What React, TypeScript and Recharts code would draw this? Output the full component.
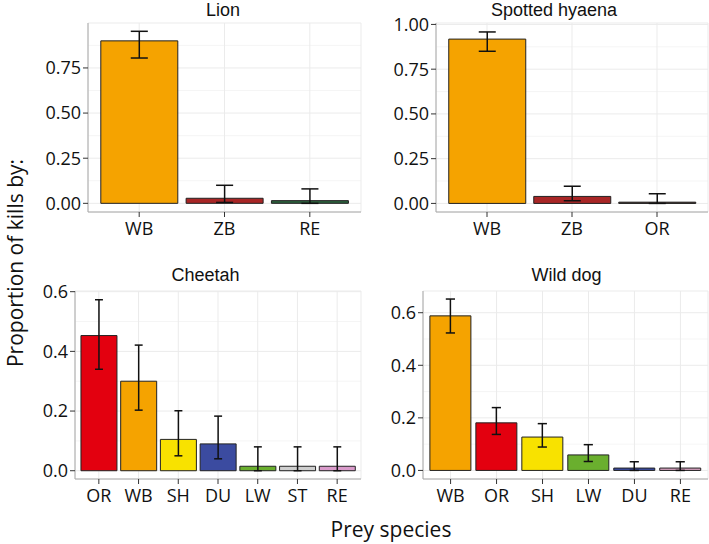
import React from "react";
import {
  BarChart,
  Bar,
  Cell,
  XAxis,
  YAxis,
  CartesianGrid,
  ErrorBar,
} from "recharts";

// Lion
const lionPrey = ["WB", "ZB", "RE"];
const lionValue = [0.9, 0.028, 0.015];
const lionLow = [0.805, 0.005, 0.0];
const lionHigh = [0.953, 0.1, 0.08];

// Spotted hyaena
const hyaenaPrey = ["WB", "ZB", "OR"];
const hyaenaValue = [0.918, 0.039, 0.007];
const hyaenaLow = [0.85, 0.015, 0.0];
const hyaenaHigh = [0.958, 0.096, 0.054];

// Cheetah
const cheetahPrey = ["OR", "WB", "SH", "DU", "LW", "ST", "RE"];
const cheetahValue = [0.453, 0.3, 0.105, 0.09, 0.015, 0.015, 0.015];
const cheetahLow = [0.34, 0.203, 0.05, 0.04, 0.0, 0.0, 0.0];
const cheetahHigh = [0.573, 0.421, 0.201, 0.183, 0.08, 0.08, 0.08];

// Wild dog
const dogPrey = ["WB", "OR", "SH", "LW", "DU", "RE"];
const dogValue = [0.588, 0.181, 0.127, 0.059, 0.009, 0.009];
const dogLow = [0.523, 0.137, 0.089, 0.034, 0.0, 0.0];
const dogHigh = [0.652, 0.239, 0.178, 0.098, 0.033, 0.033];

// y tick labels
const ticksQuarter = [0, 0.25, 0.5, 0.75];
const ticksQuarterFull = [0, 0.25, 0.5, 0.75, 1.0];
const minorQuarter = [0.125, 0.375, 0.625, 0.875];
const ticksTenth = [0, 0.2, 0.4, 0.6];
const minorTenth = [0.1, 0.3, 0.5];

const COLORS: Record<string, Record<string, string>> = {
  lion: { WB: "#F5A300", ZB: "#A82626", RE: "#2C5E3C" },
  hyaena: { WB: "#F5A300", ZB: "#A82626", OR: "#3A1A10" },
  cheetah: {
    OR: "#E3000F",
    WB: "#F5A300",
    SH: "#F8E200",
    DU: "#3B4BA0",
    LW: "#6AAF2E",
    ST: "#CFCFCF",
    RE: "#DA9BCB",
  },
  dog: {
    WB: "#F5A300",
    OR: "#E3000F",
    SH: "#F8E200",
    LW: "#6AAF2E",
    DU: "#3B4BA0",
    RE: "#D8A0C0",
  },
};

const TICK_FONT = "'Open Sans', sans-serif";
const TITLE_FONT = "'Liberation Sans', Arial, sans-serif";

function buildRows(prey: string[], value: number[], lo: number[], hi: number[]) {
  return prey.map((p, i) => ({
    prey: p,
    value: value[i],
    err: [value[i] - lo[i], hi[i] - value[i]],
  }));
}

interface PanelProps {
  title: string;
  titleX: number;
  titleY: number;
  plotLeft: number;
  plotTop: number;
  plotRight: number;
  plotBottom: number;
  rows: { prey: string; value: number; err: number[] }[];
  colors: Record<string, string>;
  domain: [number, number];
  ticks: number[];
  minor: number[];
  decimals: number;
}

function Panel(p: PanelProps) {
  const yAxisW = 64;
  const xAxisH = 34;
  const topPad = 12;
  const left = p.plotLeft - yAxisW;
  const w = p.plotRight - left + 1;
  const h = p.plotBottom - p.plotTop + xAxisH + topPad;
  const plotW = p.plotRight - p.plotLeft;
  const unit = plotW / (p.rows.length + 0.2);
  const pad = unit * 0.1;
  const cap = unit * 0.1;
  const tickStyle = { fill: "#111", fontSize: 18, fontFamily: TICK_FONT };

  return (
    <>
      <div
        style={{
          position: "absolute",
          left: p.titleX - 100,
          top: p.titleY - 9,
          width: 200,
          textAlign: "center",
          fontFamily: TITLE_FONT,
          fontSize: 18,
          lineHeight: "19px",
          color: "#111",
        }}
      >
        {p.title}
      </div>
      <div style={{ position: "absolute", left, top: p.plotTop - topPad }}>
        <BarChart
          width={w}
          height={h}
          data={p.rows}
          margin={{ top: topPad, right: 1, bottom: 0, left: 0 }}
          barCategoryGap="5%"
        >
          <CartesianGrid
            xAxisId="x"
            yAxisId="y"
            vertical={false}
            horizontalValues={p.minor}
            stroke="#F3F3F3"
            strokeWidth={0.8}
          />
          <CartesianGrid xAxisId="x" yAxisId="y" stroke="#EBEBEB" strokeWidth={1} />
          <XAxis
            xAxisId="x"
            dataKey="prey"
            height={xAxisH}
            interval={0}
            padding={{ left: pad, right: pad }}
            tickSize={5}
            tickMargin={5}
            axisLine={{ stroke: "#A8A8A8" }}
            tickLine={{ stroke: "#333" }}
            tick={tickStyle}
          />
          <XAxis
            xAxisId="t"
            orientation="top"
            dataKey="prey"
            height={0}
            tick={false}
            tickLine={false}
            axisLine={{ stroke: "#A8A8A8" }}
          />
          <YAxis
            yAxisId="y"
            type="number"
            domain={p.domain}
            allowDataOverflow
            ticks={p.ticks}
            width={yAxisW}
            tickSize={5}
            tickMargin={2}
            axisLine={{ stroke: "#A8A8A8" }}
            tickLine={{ stroke: "#333" }}
            tick={tickStyle}
            tickFormatter={(v: number) => v.toFixed(p.decimals)}
          />
          <YAxis
            yAxisId="r"
            orientation="right"
            type="number"
            domain={p.domain}
            allowDataOverflow
            width={0}
            tick={false}
            tickLine={false}
            axisLine={{ stroke: "#A8A8A8" }}
          />
          <Bar
            xAxisId="x"
            yAxisId="y"
            dataKey="value"
            stroke="#222"
            strokeWidth={1}
            isAnimationActive={false}
          >
            {p.rows.map((r) => (
              <Cell key={r.prey} fill={p.colors[r.prey]} />
            ))}
            <ErrorBar
              dataKey="err"
              direction="y"
              width={cap}
              stroke="#111"
              strokeWidth={1.5}
            />
          </Bar>
        </BarChart>
      </div>
    </>
  );
}

export default function App() {
  return (
    <div
      style={{
        position: "absolute",
        left: 0,
        top: 0,
        width: 709,
        height: 544,
        background: "#fff",
        overflow: "hidden",
      }}
    >
      <Panel
        title="Lion"
        titleX={223}
        titleY={10}
        plotLeft={88}
        plotTop={23}
        plotRight={361}
        plotBottom={212}
        rows={buildRows(lionPrey, lionValue, lionLow, lionHigh)}
        colors={COLORS.lion}
        domain={[-0.048, 0.999]}
        ticks={ticksQuarter}
        minor={minorQuarter}
        decimals={2}
      />
      <Panel
        title="Spotted hyaena"
        titleX={554}
        titleY={10}
        plotLeft={436}
        plotTop={23}
        plotRight={708}
        plotBottom={212}
        rows={buildRows(hyaenaPrey, hyaenaValue, hyaenaLow, hyaenaHigh)}
        colors={COLORS.hyaena}
        domain={[-0.048, 1.008]}
        ticks={ticksQuarterFull}
        minor={minorQuarter}
        decimals={2}
      />
      <Panel
        title="Cheetah"
        titleX={205.5}
        titleY={275}
        plotLeft={75}
        plotTop={291}
        plotRight={361}
        plotBottom={479}
        rows={buildRows(cheetahPrey, cheetahValue, cheetahLow, cheetahHigh)}
        colors={COLORS.cheetah}
        domain={[-0.0277, 0.6023]}
        ticks={ticksTenth}
        minor={minorTenth}
        decimals={1}
      />
      <Panel
        title="Wild dog"
        titleX={566.5}
        titleY={275}
        plotLeft={423}
        plotTop={291}
        plotRight={708}
        plotBottom={479}
        rows={buildRows(dogPrey, dogValue, dogLow, dogHigh)}
        colors={COLORS.dog}
        domain={[-0.0326, 0.6826]}
        ticks={ticksTenth}
        minor={minorTenth}
        decimals={1}
      />
      <svg
        width={32}
        height={300}
        style={{ position: "absolute", left: 0, top: 113 }}
      >
        <text
          x={0}
          y={0}
          transform="translate(23,150) rotate(-90)"
          textAnchor="middle"
          fontFamily={TICK_FONT}
          fontSize={21}
          fill="#111"
        >
          Proportion of kills by:
        </text>
      </svg>
      <div
        style={{
          position: "absolute",
          left: 391 - 150,
          top: 515,
          width: 300,
          lineHeight: "28px",
          textAlign: "center",
          fontFamily: TICK_FONT,
          fontSize: 21,
          color: "#111",
        }}
      >
        Prey species
      </div>
    </div>
  );
}
